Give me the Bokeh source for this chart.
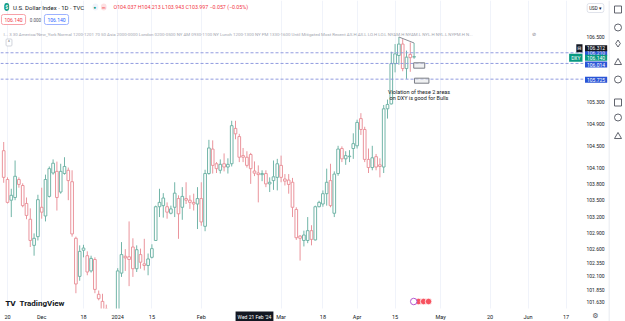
import numpy as np
from bokeh.plotting import figure
from bokeh.models import Range1d, FixedTicker, Label, ColumnDataSource
from bokeh.layouts import row
from bokeh.embed import file_html
from bokeh.resources import INLINE

# ---------------- data (daily DXY candles, trading-day index; Nov 17 2023 = -1) -------------
dates = ["2023-11-17","2023-11-20","2023-11-21","2023-11-22","2023-11-23","2023-11-24","2023-11-27","2023-11-28","2023-11-29","2023-11-30",
         "2023-12-01","2023-12-04","2023-12-05","2023-12-06","2023-12-07","2023-12-08","2023-12-11","2023-12-12","2023-12-13","2023-12-14",
         "2023-12-15","2023-12-18","2023-12-19","2023-12-20","2023-12-21","2023-12-22","2023-12-26","2023-12-27","2023-12-28","2023-12-29",
         "2024-01-02","2024-01-03","2024-01-04","2024-01-05","2024-01-08","2024-01-09","2024-01-10","2024-01-11","2024-01-12","2024-01-15",
         "2024-01-16","2024-01-17","2024-01-18","2024-01-19","2024-01-22","2024-01-23","2024-01-24","2024-01-25","2024-01-26","2024-01-29",
         "2024-01-30","2024-01-31","2024-02-01","2024-02-02","2024-02-05","2024-02-06","2024-02-07","2024-02-08","2024-02-09","2024-02-12",
         "2024-02-13","2024-02-14","2024-02-15","2024-02-16","2024-02-19","2024-02-20","2024-02-21","2024-02-22","2024-02-23","2024-02-26",
         "2024-02-27","2024-02-28","2024-02-29","2024-03-01","2024-03-04","2024-03-05","2024-03-06","2024-03-07","2024-03-08","2024-03-11",
         "2024-03-12","2024-03-13","2024-03-14","2024-03-15","2024-03-18","2024-03-19","2024-03-20","2024-03-21","2024-03-22","2024-03-25",
         "2024-03-26","2024-03-27","2024-03-28","2024-04-01","2024-04-02","2024-04-03","2024-04-04","2024-04-05","2024-04-08","2024-04-09",
         "2024-04-10","2024-04-11","2024-04-12","2024-04-15","2024-04-16","2024-04-17","2024-04-18","2024-04-19","2024-04-22"]

opens = [104.41,103.88,103.50,103.55,103.88,103.77,103.44,103.15,102.67,102.83,
         103.37,103.21,103.57,104.00,104.03,103.65,103.99,104.05,103.84,102.80,
         102.10,102.58,102.48,102.20,102.41,101.77,101.64,101.50,100.98,101.23,
         101.33,102.16,102.47,102.46,102.64,102.24,102.50,102.33,102.30,102.45,
         102.76,103.38,103.40,103.38,103.26,103.37,103.53,103.37,103.53,103.50,
         103.46,103.43,103.53,103.02,103.99,104.44,104.17,104.05,104.17,104.11,
         104.17,104.82,104.67,104.32,104.29,104.34,104.037,104.00,103.97,103.99,
         103.80,103.86,103.92,104.14,103.89,103.87,103.83,103.33,102.84,102.76,
         102.76,102.94,102.77,103.38,103.43,103.62,103.86,103.26,103.99,104.45,
         104.26,104.30,104.45,104.50,105.00,104.80,104.25,104.10,104.30,104.15,
         104.11,105.18,105.27,106.01,106.16,106.37,105.92,106.18,106.13]

highs = [104.57,103.92,103.71,104.23,103.92,103.81,103.55,103.35,102.89,103.60,
         103.73,103.97,104.12,104.25,104.21,104.17,104.29,104.10,104.05,102.83,
         102.67,102.68,102.56,102.48,102.45,101.84,101.78,101.58,101.25,101.45,
         102.25,102.73,102.60,103.11,102.80,102.67,102.61,102.79,102.52,102.69,
         103.40,103.71,103.63,103.46,103.40,103.83,103.59,103.74,103.83,103.59,
         103.62,103.74,103.83,104.06,104.61,104.60,104.20,104.25,104.36,104.27,
         104.96,104.96,104.72,104.46,104.40,104.37,104.213,104.14,104.05,104.05,
         103.92,104.23,104.26,104.32,103.98,103.98,103.91,103.37,102.86,102.94,
         103.19,103.04,103.40,103.49,103.68,104.08,104.17,104.03,104.50,104.49,
         104.40,104.42,104.73,104.98,105.10,104.85,104.45,104.50,104.35,104.27,
         105.25,105.35,106.23,106.37,106.50,106.46,106.25,106.40,106.39]

lows = [103.82,103.44,103.19,103.50,103.73,103.37,103.15,102.64,102.48,102.76,
        103.16,103.11,103.55,103.97,103.31,103.62,103.97,103.50,102.83,101.79,
        102.02,102.45,102.12,102.17,101.79,101.66,101.30,100.95,100.62,101.10,
        101.33,102.09,102.20,101.92,102.09,102.18,102.24,102.21,102.12,102.43,
        102.75,103.19,103.18,103.16,103.24,103.19,102.79,103.14,103.43,103.34,
        103.31,102.97,103.03,102.93,103.97,103.99,104.00,103.99,104.03,103.99,
        104.12,104.62,104.20,104.20,104.10,103.80,103.943,103.46,103.85,103.74,
        103.65,103.69,103.68,103.83,103.77,103.62,103.19,102.77,102.39,102.65,
        102.71,102.67,102.76,103.37,103.38,103.40,103.37,103.19,103.95,104.20,
        104.15,104.20,104.26,104.45,104.70,104.20,104.00,104.05,104.05,103.92,
        104.00,105.00,105.26,105.85,105.99,105.87,105.73,105.86,106.10]

closes = [103.92,103.46,103.59,103.94,103.79,103.40,103.22,102.76,102.80,103.51,
          103.28,103.88,104.08,104.18,103.55,104.03,104.12,103.86,102.88,101.96,
          102.56,102.62,102.18,102.43,101.86,101.69,101.45,100.98,101.23,101.33,
          102.20,102.50,102.44,102.41,102.24,102.59,102.36,102.30,102.42,102.61,
          103.38,103.46,103.54,103.28,103.34,103.63,103.25,103.57,103.50,103.46,
          103.43,103.53,103.10,103.99,104.46,104.14,104.08,104.16,104.11,104.16,
          104.87,104.72,104.29,104.29,104.14,104.08,103.997,103.97,103.99,103.80,
          103.83,103.93,104.17,103.92,103.85,103.79,103.37,102.81,102.80,102.86,
          102.94,102.78,103.38,103.46,103.62,103.83,103.40,103.98,104.44,104.26,
          104.32,104.31,104.54,104.93,104.80,104.25,104.10,104.28,104.11,104.12,
          105.18,105.26,106.01,106.19,106.37,105.92,106.13,106.12,106.14]

# time axis (trading-day index) and labels
time_ticks = [0, 9, 20, 29, 38, 51, 72, 83, 92, 102, 114, 127, 137, 147]
time_labels = ["20", "Dec", "18", "2024", "15", "Feb", "Mar", "18", "Apr", "15", "May", "20", "Jun", "17"]
hover_idx = 65
hover_label = "Wed 21 Feb '24"

# price axis
price_ticks = [106.5, 105.3, 104.9, 104.5, 104.1, 103.8, 103.5, 103.2, 102.9, 102.6, 102.35, 102.1, 101.85, 101.63]

# horizontal levels (dashed)
level_values = [106.21, 106.014, 105.725]
# axis price tags (drawn bottom-most first); shift = collision offset in px, as on the price scale
tag_values = [106.21, 106.014, 105.725, 106.140, 106.312]
tag_texts = ["106.210", "106.014", "105.725", "106.140", "106.312"]
tag_colors = ["#2a55d6", "#2a55d6", "#2a55d6", "#089981", "#131722"]
tag_shift_px = [0.0, 1.1, 0.6, 1.2, 1.0]

# drawings
trend_x = [103, 107]
trend_y = [106.50, 106.39]
zone_left = [106.9, 107.1]
zone_right = [109.8, 110.9]
zone_top = [106.026, 105.743]
zone_bottom = [105.927, 105.651]
event_x = [108.2, 109.5, 110.8]
event_ring_x = [106.9]

# ---------------- geometry ----------------
PXX = 3.8            # px per bar
PXY = 54.4           # px per price unit
CANVAS_W, CANVAS_H = 608, 321
CHART_W, CHART_H = 583, 308     # plotting area (price scale / time scale outside it)
X0 = -1.84
X1 = X0 + CANVAS_W / PXX
Y1 = 107.171
Y0 = Y1 - CANVAS_H / PXY


def gx(px):
    return X0 + px / PXX


def gy(py):
    return Y1 - py / PXY


XR = gx(CHART_W)   # right edge of chart area (data)
YB = gy(CHART_H)   # bottom edge of chart area (data)

FONT = "Roboto"
TXT = "#131722"

idx = np.arange(len(dates)) - 1
o = np.array(opens); c = np.array(closes)
up = c >= o
colors = np.where(up, "#72b5a8", "#ea949c")
src = ColumnDataSource(dict(x=idx, h=highs, l=lows, top=np.maximum(o, c), bot=np.minimum(o, c), color=colors))

p = figure(width=CANVAS_W, height=CANVAS_H, x_range=Range1d(X0, X1), y_range=Range1d(Y0, Y1),
           output_backend="svg", toolbar_location=None, y_axis_location="right",
           min_border=0, min_border_left=0, min_border_top=0, min_border_right=0, min_border_bottom=0)
p.outline_line_color = None
p.background_fill_color = "white"
p.border_fill_color = "white"

# axes (drawn at the edges of the chart area)
p.xaxis.ticker = FixedTicker(ticks=time_ticks)
p.xaxis.major_label_overrides = {t: s for t, s in zip(time_ticks, time_labels)}
p.xaxis.fixed_location = YB
p.yaxis.ticker = FixedTicker(ticks=price_ticks)
p.yaxis.major_label_overrides = {v: f"{v:.3f}" for v in price_ticks}
p.yaxis.fixed_location = XR
for ax in (p.xaxis, p.yaxis):
    ax.axis_line_color = None
    ax.major_tick_line_color = None
    ax.minor_tick_line_color = None
    ax.major_tick_out = 0
    ax.major_tick_in = 0
    ax.major_label_text_font = FONT
    ax.major_label_text_color = TXT
p.xaxis.major_label_text_font_size = "5.5px"
p.xaxis.major_label_standoff = 5
p.yaxis.major_label_text_font_size = "5px"
p.yaxis.major_label_standoff = 3
p.xgrid.ticker = FixedTicker(ticks=time_ticks)
p.xgrid.grid_line_color = "#f0f3fa"
p.ygrid.grid_line_color = None

# candles
p.segment(x0="x", y0="l", x1="x", y1="h", line_color="color", line_width=1, source=src)
p.vbar(x="x", width=0.7, top="top", bottom="bot", fill_color="white", line_color="color", line_width=1, source=src)

# levels (dashed, across the chart area)
p.segment(x0=[X0] * len(level_values), y0=level_values, x1=[XR] * len(level_values), y1=level_values,
          line_color="#8590dc", line_width=1, line_dash="3 2", line_alpha=0.9)

# drawings
p.line(trend_x, trend_y, line_color="#8a8d96", line_width=1)
p.quad(left=zone_left, right=zone_right, top=zone_top, bottom=zone_bottom,
       fill_color="#e6e7ea", fill_alpha=0.6, line_color="#7a7d86", line_width=1)
p.scatter(event_x, [gy(301)] * len(event_x), size=6.5, fill_color="#f7525f", line_color="white", line_width=0.8)
p.scatter(event_ring_x, [gy(301)], size=6.5, fill_color="white", line_color="#b45ad0", line_width=1)

# white price-scale and time-scale strips
p.quad(left=[XR, X0], right=[X1, X1], top=[Y1, YB], bottom=[Y0, Y0], fill_color="white", line_color=None)

p.add_layout(Label(x=108.3, y=gy(94.5), text="Violation of these 2 areas\non DXY is good for Bulls",
                   text_align="center", text_baseline="middle", text_font=FONT, text_font_size="5.5px",
                   text_color=TXT, text_line_height=1.1))

# header
p.add_layout(Label(x=gx(6.2), y=gy(6.5), text="$", text_align="center", text_baseline="middle",
                   text_font=FONT, text_font_size="5px", text_color="white", text_font_style="bold",
                   background_fill_color="#089981", padding=1, border_radius=4))
p.add_layout(Label(x=gx(12.5), y=gy(6.5), text="U.S. Dollar Index · 1D · TVC", text_align="left",
                   text_baseline="middle", text_font=FONT, text_font_size="6px", text_color=TXT))
p.add_layout(Label(x=gx(92), y=gy(6.5), text="● ", text_align="left", text_baseline="middle",
                   text_font=FONT, text_font_size="4.5px", text_color="#089981",
                   background_fill_color="#f0f3fa", padding=1, border_radius=3))
p.add_layout(Label(x=gx(100.5), y=gy(6.5), text="m", text_align="left", text_baseline="middle",
                   text_font=FONT, text_font_size="4px", text_color="#f23645",
                   background_fill_color="#fde0e2", padding=1, border_radius=3))
p.add_layout(Label(x=gx(113), y=gy(6.5), text="O104.037 H104.213 L103.943 C103.997 −0.057 (−0.05%)",
                   text_align="left", text_baseline="middle", text_font=FONT, text_font_size="5.3px",
                   text_color="#f23645"))
p.add_layout(Label(x=gx(13), y=gy(19), text="106.140", text_align="center", text_baseline="middle",
                   text_font=FONT, text_font_size="5px", text_color="#f23645", background_fill_color="white",
                   border_line_color="#f7a1a8", padding=3, border_radius=2))
p.add_layout(Label(x=gx(35), y=gy(19), text="0.000", text_align="center", text_baseline="middle",
                   text_font=FONT, text_font_size="4.5px", text_color="#50535e"))
p.add_layout(Label(x=gx(56), y=gy(19), text="106.140", text_align="center", text_baseline="middle",
                   text_font=FONT, text_font_size="5px", text_color="#2962ff", background_fill_color="white",
                   border_line_color="#9db2ff", padding=3, border_radius=2))
p.add_layout(Label(x=gx(3), y=gy(33.5),
                   text="I... 3 30 America/New_York Normal 1200-1201 70 50 Asia 2000-0000 London 0200-0500 "
                        "NY AM 0930-1100 NY Lunch 1200-1300 NY PM 1330-1600 Until Mitigated Most Recent "
                        "AS.H AS.L LO.H LO.L NYAM.H NYAM.L NYL.H NYL.L NYPM.H N...",
                   text_align="left", text_baseline="middle", text_font=FONT, text_font_size="4.4px",
                   text_color="#a3a6af"))
p.add_layout(Label(x=gx(533), y=gy(33.5), text="⊘", text_align="center", text_baseline="middle",
                   text_font=FONT, text_font_size="5px", text_color="#787b86"))
p.add_layout(Label(x=gx(8.5), y=gy(42), text="^", text_align="center", text_baseline="middle",
                   text_font=FONT, text_font_size="4.5px", text_color="#50535e", background_fill_color="white",
                   border_line_color="#d1d4dc", padding=(2, 1), border_radius=1))
p.add_layout(Label(x=gx(5), y=gy(303), text="TV", text_align="left", text_baseline="middle",
                   text_font="DejaVu Sans", text_font_size="7px", text_font_style="bold", text_color=TXT))
p.add_layout(Label(x=gx(19), y=gy(303), text="TradingView", text_align="left", text_baseline="middle",
                   text_font=FONT, text_font_size="8px", text_font_style="bold", text_color=TXT))

# price-scale tags
for v, t, col, sh in zip(tag_values, tag_texts, tag_colors, tag_shift_px):
    p.add_layout(Label(x=XR + 1.5 / PXX, y=v - sh / PXY, text=t, text_align="left", text_baseline="middle",
                       text_font=FONT, text_font_size="5px", text_color="white",
                       background_fill_color=col, padding=(2, 1)))
p.add_layout(Label(x=XR - 1 / PXX, y=106.140 - 1.2 / PXY, text="DXY", text_align="right", text_baseline="middle",
                   text_font=FONT, text_font_size="5px", text_color="white",
                   background_fill_color="#089981", padding=(2, 1)))
p.add_layout(Label(x=XR - 1 / PXX, y=106.312 - 1.0 / PXY, text="⊟", text_align="right", text_baseline="middle",
                   text_font="DejaVu Sans", text_font_size="5px", text_color="white",
                   background_fill_color="#131722", padding=1))
p.add_layout(Label(x=XR + 12 / PXX, y=gy(7.5), text="USD ▾", text_align="center", text_baseline="middle",
                   text_font=FONT, text_font_size="4.5px", text_color=TXT, background_fill_color="white",
                   border_line_color="#e0e3eb", padding=2, border_radius=2))
p.add_layout(Label(x=hover_idx, y=gy(316), text=hover_label, text_align="center", text_baseline="middle",
                   text_font=FONT, text_font_size="5px", text_color="white",
                   background_fill_color="#131722", padding=2))
p.add_layout(Label(x=XR + 12 / PXX, y=gy(315.5), text="⚙", text_align="center", text_baseline="middle",
                   text_font="DejaVu Sans", text_font_size="7px", text_color="#50535e"))

# right toolbar
side = figure(width=17, height=321, x_range=Range1d(0, 17), y_range=Range1d(321, 0),
              output_backend="svg", toolbar_location=None, x_axis_location=None, y_axis_location=None,
              min_border=0, min_border_left=0, min_border_right=0, min_border_top=0, min_border_bottom=0)
side.outline_line_color = None
side.grid.grid_line_color = None
side.background_fill_color = "white"
side.border_fill_color = "white"
side.segment([0.5], [0], [0.5], [321], line_color="#e0e3eb", line_width=1)
icon_y = [9, 27, 43, 62, 79, 102, 117, 136]
icon_m = ["square", "circle", "diamond", "triangle", "circle", "square", "circle", "triangle"]
side.scatter([9.5] * len(icon_y), icon_y, marker=icon_m, size=7, fill_color=None, line_color="#50535e", line_width=0.9)

layout = row(p, side, spacing=0)
open("out.html", "w").write(file_html(layout, INLINE))
